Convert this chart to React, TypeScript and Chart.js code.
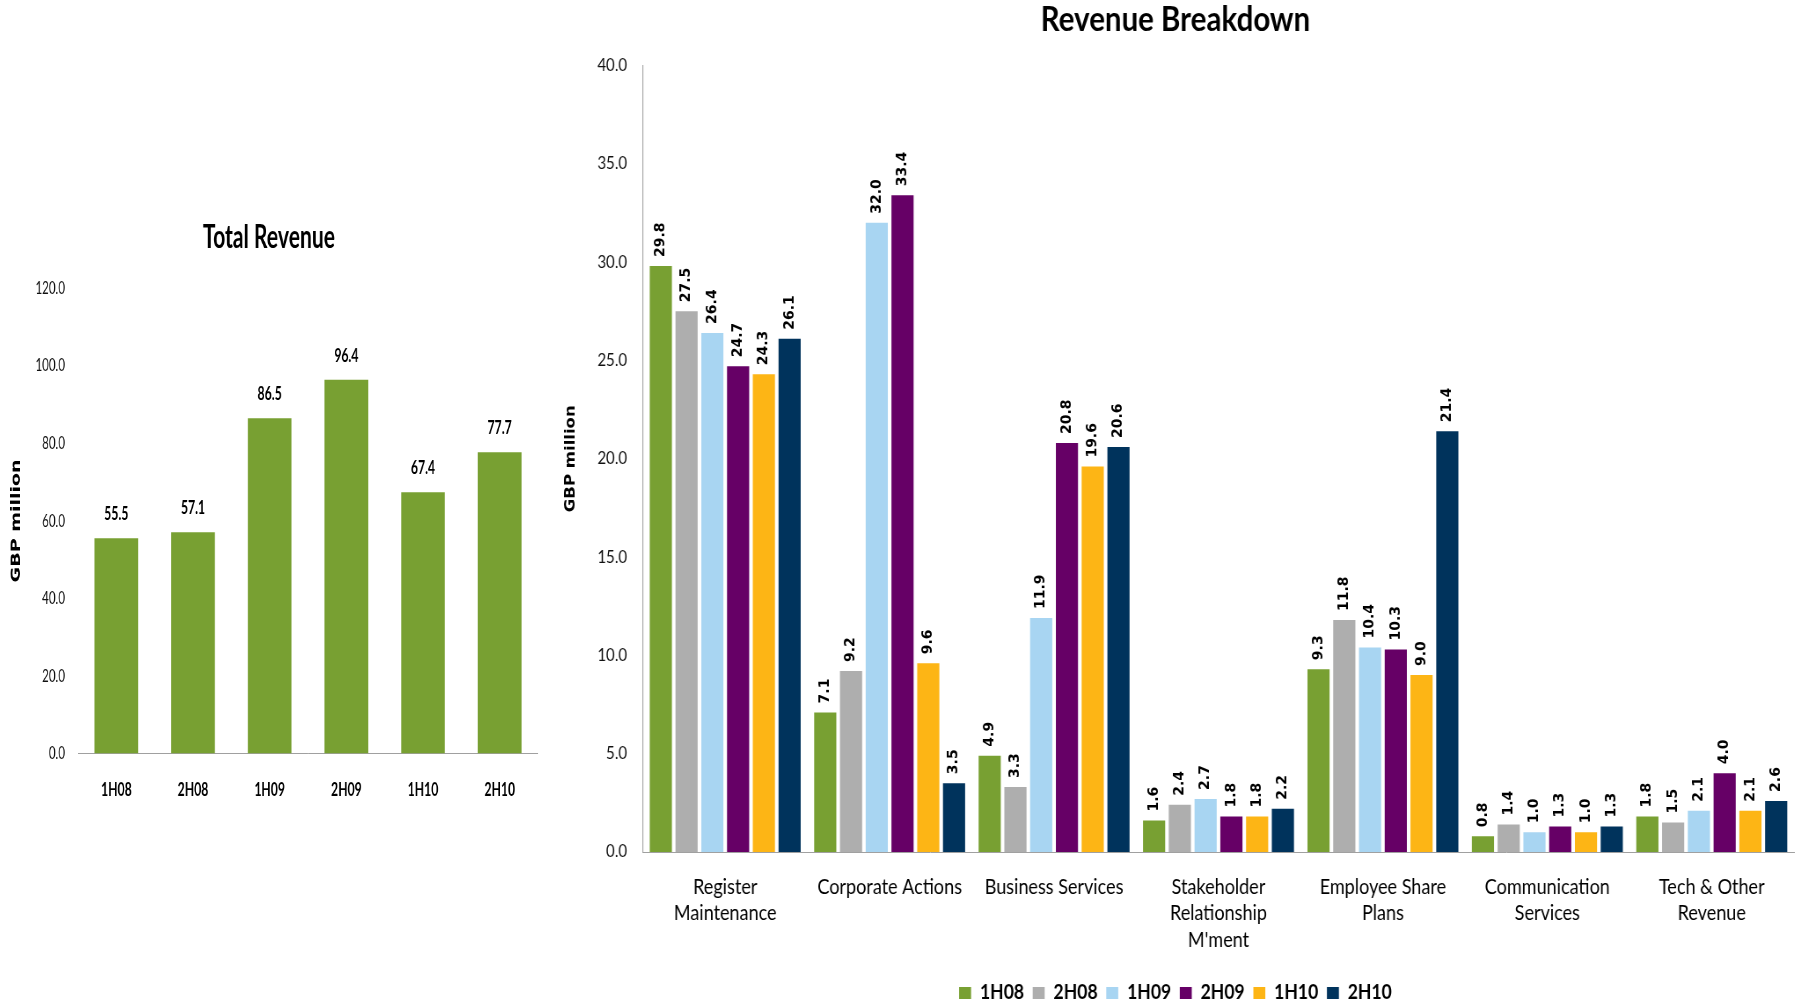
import React, { useEffect, useRef } from "react";
import { Chart, registerables } from "chart.js";

Chart.register(...registerables);

// ---------- data ----------
const periods = ["1H08", "2H08", "1H09", "2H09", "1H10", "2H10"];
const totalRevenue = [55.5, 57.1, 86.5, 96.4, 67.4, 77.7];
const totalTicks = [0, 20, 40, 60, 80, 100, 120];

const categories = [
  ["Register", "Maintenance"],
  ["Corporate Actions"],
  ["Business Services"],
  ["Stakeholder", "Relationship", "M'ment"],
  ["Employee Share", "Plans"],
  ["Communication", "Services"],
  ["Tech & Other", "Revenue"],
];
const rev1H08 = [29.8, 7.1, 4.9, 1.6, 9.3, 0.8, 1.8];
const rev2H08 = [27.5, 9.2, 3.3, 2.4, 11.8, 1.4, 1.5];
const rev1H09 = [26.4, 32.0, 11.9, 2.7, 10.4, 1.0, 2.1];
const rev2H09 = [24.7, 33.4, 20.8, 1.8, 10.3, 1.3, 4.0];
const rev1H10 = [24.3, 9.6, 19.6, 1.8, 9.0, 1.0, 2.1];
const rev2H10 = [26.1, 3.5, 20.6, 2.2, 21.4, 1.3, 2.6];
const breakdownTicks = [0, 5, 10, 15, 20, 25, 30, 35, 40];

const seriesColors = ["#78A032", "#AEAEAE", "#A8D5F2", "#660066", "#FDB515", "#00335C"];

// ---------- style ----------
const SANS = "Lato, 'Open Sans', 'Liberation Sans', sans-serif";
const WIDE = "'DejaVu Sans', Verdana, sans-serif";
const AXIS_COLOR = "#A0A0A0";

// horizontal squeeze of each panel (css width / drawing width)
const LEFT_CSS_W = 560;
const LEFT_W = 848;
const RIGHT_CSS_W = 1244;
const RIGHT_W = 1414;
const KR = RIGHT_CSS_W / RIGHT_W;

const leftLabelsPlugin = {
  id: "leftLabels",
  afterDatasetsDraw(chart: any) {
    const ctx = chart.ctx;
    ctx.save();
    ctx.font = `bold 18.5px ${SANS}`;
    ctx.fillStyle = "#000";
    ctx.textAlign = "center";
    ctx.textBaseline = "middle";
    chart.data.datasets.forEach((ds: any, di: number) => {
      const meta = chart.getDatasetMeta(di);
      meta.data.forEach((el: any, i: number) => {
        ctx.fillText(Number(ds.data[i]).toFixed(1), el.x, el.y - 24);
      });
    });
    ctx.restore();
  },
};

const rightLabelsPlugin = {
  id: "rightLabels",
  afterDatasetsDraw(chart: any) {
    const ctx = chart.ctx;
    ctx.save();
    ctx.font = `bold 14px ${WIDE}`;
    ctx.fillStyle = "#000";
    ctx.textAlign = "left";
    ctx.textBaseline = "middle";
    chart.data.datasets.forEach((ds: any, di: number) => {
      const meta = chart.getDatasetMeta(di);
      meta.data.forEach((el: any, i: number) => {
        ctx.save();
        ctx.translate(el.x, el.y - 9);
        ctx.scale(1 / KR, 1);
        ctx.rotate(-Math.PI / 2);
        ctx.fillText(Number(ds.data[i]).toFixed(1), 0, 0);
        ctx.restore();
      });
    });
    ctx.restore();
  },
};

function ChartCanvas({ makeConfig, left, top, width, height, cssWidth }: any) {
  const ref = useRef<HTMLCanvasElement | null>(null);
  useEffect(() => {
    const chart = new Chart(ref.current as HTMLCanvasElement, makeConfig());
    return () => chart.destroy();
  }, []);
  return (
    <canvas
      ref={ref}
      width={width}
      height={height}
      style={{ position: "absolute", left, top, width: cssWidth, height, display: "block" }}
    />
  );
}

const makeLeftConfig = (): any => ({
  type: "bar",
  data: {
    labels: periods,
    datasets: [
      {
        label: "Total Revenue",
        data: totalRevenue,
        backgroundColor: seriesColors[0],
        borderWidth: 0,
        categoryPercentage: 1,
        barPercentage: 0.57,
      },
    ],
  },
  plugins: [leftLabelsPlugin],
  options: {
    responsive: false,
    animation: false,
    devicePixelRatio: 1,
    layout: { padding: { left: 0, right: 33.3, top: 0, bottom: 0 } },
    plugins: {
      legend: { display: false },
      tooltip: { enabled: false },
      title: {
        display: true,
        text: "Total Revenue",
        color: "#000",
        font: { family: SANS, size: 32, weight: "bold", lineHeight: 1.2 },
        padding: { top: 38.8, bottom: 31.1 },
      },
    },
    scales: {
      x: {
        grid: { display: false },
        border: { display: true, color: AXIS_COLOR, width: 1 },
        ticks: {
          color: "#000",
          font: { family: SANS, size: 18.5, weight: "bold", lineHeight: 1.2 },
          padding: 17.5,
          maxRotation: 0,
          autoSkip: false,
        },
        afterFit: (s: any) => {
          s.height = 66.5;
        },
      },
      y: {
        min: 0,
        max: 120,
        grid: { display: false },
        border: { display: false },
        afterBuildTicks: (axis: any) => {
          axis.ticks = totalTicks.map((v) => ({ value: v }));
        },
        ticks: {
          color: "#111",
          font: { family: SANS, size: 17.5 },
          padding: 11.7,
          callback: (v: any) => Number(v).toFixed(1),
        },
        title: {
          display: true,
          text: "GBP million",
          color: "#000",
          font: { family: WIDE, size: 19, weight: "bold", lineHeight: 1.2 },
          padding: { top: 13.5, bottom: 0 },
        },
        afterFit: (s: any) => {
          s.width = 118.1;
        },
      },
    },
  },
});

const makeRightConfig = (): any => ({
  type: "bar",
  data: {
    labels: categories,
    datasets: [rev1H08, rev2H08, rev1H09, rev2H09, rev1H10, rev2H10].map((d, i) => ({
      label: periods[i],
      data: d,
      backgroundColor: seriesColors[i],
      borderColor: seriesColors[i],
      borderWidth: 0,
      categoryPercentage: 0.94,
      barPercentage: 0.86,
    })),
  },
  plugins: [rightLabelsPlugin],
  options: {
    responsive: false,
    animation: false,
    devicePixelRatio: 1,
    layout: { padding: { left: 0, right: 8, top: 0, bottom: 0 } },
    plugins: {
      tooltip: { enabled: false },
      title: {
        display: true,
        text: "Revenue Breakdown",
        color: "#000",
        font: { family: SANS, size: 33.5, weight: "bold", lineHeight: 1.2 },
        padding: { top: 0, bottom: 25.3 },
      },
      legend: {
        display: true,
        position: "bottom",
        labels: {
          boxWidth: 13.6,
          boxHeight: 12,
          padding: 9.8,
          color: "#000",
          font: { family: SANS, size: 20, weight: "bold" },
        },
      },
    },
    scales: {
      x: {
        grid: { display: false },
        border: { display: true, color: AXIS_COLOR, width: 1 },
        ticks: {
          color: "#000",
          font: { family: SANS, size: 20.5, lineHeight: 1.29 },
          padding: 13.8,
          maxRotation: 0,
          autoSkip: false,
        },
        afterFit: (s: any) => {
          s.height = 121.2;
        },
      },
      y: {
        min: 0,
        max: 40,
        grid: { display: false },
        border: { display: true, color: AXIS_COLOR, width: 1 / KR },
        afterBuildTicks: (axis: any) => {
          axis.ticks = breakdownTicks.map((v) => ({ value: v }));
        },
        ticks: {
          color: "#111",
          font: { family: SANS, size: 17 },
          padding: 10.2,
          callback: (v: any) => Number(v).toFixed(1),
        },
        title: {
          display: true,
          text: "GBP million",
          color: "#000",
          font: { family: WIDE, size: 16.5, weight: "bold", lineHeight: 1.2 },
          padding: { top: 6, bottom: 0 },
        },
        afterFit: (s: any) => {
          s.width = 97.75;
        },
      },
    },
  },
});

export default function App() {
  return (
    <div
      style={{
        position: "fixed",
        left: 0,
        top: 0,
        width: 1801,
        height: 1001,
        overflow: "hidden",
        background: "#fff",
      }}
    >
      <ChartCanvas
        makeConfig={makeLeftConfig}
        left={0}
        top={180}
        width={LEFT_W}
        cssWidth={LEFT_CSS_W}
        height={640}
      />
      <ChartCanvas
        makeConfig={makeRightConfig}
        left={557}
        top={0}
        width={RIGHT_W}
        cssWidth={RIGHT_CSS_W}
        height={1013}
      />
    </div>
  );
}
